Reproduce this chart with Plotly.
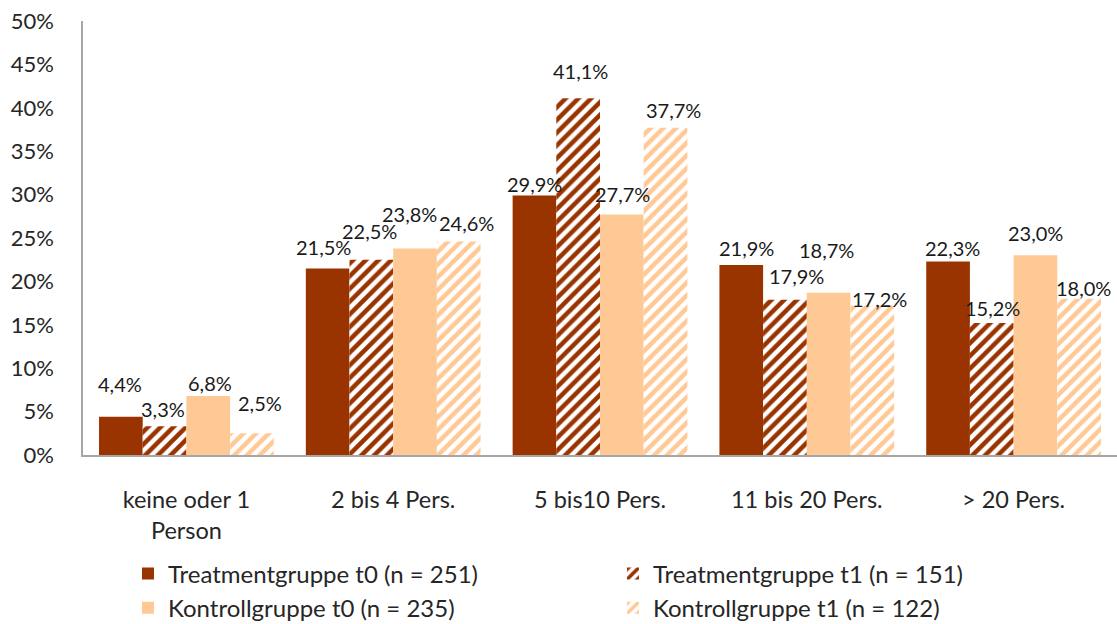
import plotly.graph_objects as go

categories = ["keine oder 1<br>Person", "2 bis 4 Pers.", "5 bis10 Pers.", "11 bis 20 Pers.", "> 20 Pers."]

series_names = [
    "Treatmentgruppe t0 (n = 251)",
    "Treatmentgruppe t1 (n = 151)",
    "Kontrollgruppe t0 (n = 235)",
    "Kontrollgruppe t1 (n = 122)",
]

treatment_t0 = [4.4, 21.5, 29.9, 21.9, 22.3]
treatment_t1 = [3.3, 22.5, 41.1, 17.9, 15.2]
kontroll_t0 = [6.8, 23.8, 27.7, 18.7, 23.0]
kontroll_t1 = [2.5, 24.6, 37.7, 17.2, 18.0]

y_ticks = [0, 5, 10, 15, 20, 25, 30, 35, 40, 45, 50]
y_tick_labels = [f"{v}%" for v in y_ticks]

# hand-placed value labels: lift above the bar top and sideways nudge (px)
label_lift = [
    [33, 21, 11, 17, 13],
    [17, 29, 27, 24, 15],
    [13, 34, 21, 43, 22],
    [30, 18, 18, 7, 11],
]
label_nudge = [
    [-1, -4, 0, 5, 4],
    [-2, -2, 2, 12, 1],
    [2, -6, 1, -2, 0],
    [8, 8, 8, 7, 4],
]

DARK = "#993300"
LIGHT = "#FFC996"
FONT = "Lato, 'Noto Sans', sans-serif"

MARGIN_L, MARGIN_R = 83, 0
FIG_W = 1117
BARGAP = 0.155


def hatch(color):
    return dict(shape="/", fgcolor=color, bgcolor="white", fgopacity=1,
                size=9, solidity=0.5)


styles = [
    dict(color=DARK, pattern=None),
    dict(color="white", pattern=hatch(DARK)),
    dict(color=LIGHT, pattern=None),
    dict(color="white", pattern=hatch(LIGHT)),
]

all_series = [treatment_t0, treatment_t1, kontroll_t0, kontroll_t1]

fig = go.Figure()
for name, vals, st in zip(series_names, all_series, styles):
    marker = dict(color=st["color"], line=dict(width=0))
    if st["pattern"]:
        marker["pattern"] = st["pattern"]
    fig.add_trace(go.Bar(x=categories, y=vals, name=name, marker=marker))

# value labels, centred over each grouped bar
cat_px = (FIG_W - MARGIN_L - MARGIN_R) / len(categories)
bar_px = cat_px * (1 - BARGAP) / len(all_series)
for si, vals in enumerate(all_series):
    for ci, v in enumerate(vals):
        fig.add_annotation(
            x=categories[ci], y=v, xref="x", yref="y",
            text=f"{v:.1f}%".replace(".", ","),
            showarrow=False, xanchor="center", yanchor="middle",
            xshift=(si - 1.5) * bar_px + label_nudge[si][ci],
            yshift=label_lift[si][ci],
            font=dict(family=FONT, size=20, color="#1a1a1a"),
        )

fig.update_layout(
    width=FIG_W, height=624,
    margin=dict(l=MARGIN_L, r=MARGIN_R, t=21, b=169, autoexpand=False),
    paper_bgcolor="white", plot_bgcolor="white",
    barmode="group", bargap=BARGAP, bargroupgap=0,
    font=dict(family=FONT, color="#262626"),
    showlegend=True,
    legend=dict(
        orientation="h", x=0.0435, y=-0.222, xanchor="left", yanchor="top",
        entrywidth=440, entrywidthmode="pixels",
        font=dict(family=FONT, size=24, color="#262626"),
        traceorder="normal", itemwidth=30, tracegroupgap=0,
    ),
    xaxis=dict(
        showline=True, linecolor="#A6A6A6", linewidth=1.5,
        tickfont=dict(family=FONT, size=23.5, color="#262626"),
        ticks="", ticklabelstandoff=23,
    ),
    yaxis=dict(
        range=[0, 50], tickvals=y_ticks, ticktext=y_tick_labels,
        showgrid=False, zeroline=False,
        showline=True, linecolor="#A6A6A6", linewidth=1.5,
        tickfont=dict(family=FONT, size=22, color="#262626"),
        ticks="", ticklabelstandoff=23,
    ),
)

fig.write_html("out.html")
